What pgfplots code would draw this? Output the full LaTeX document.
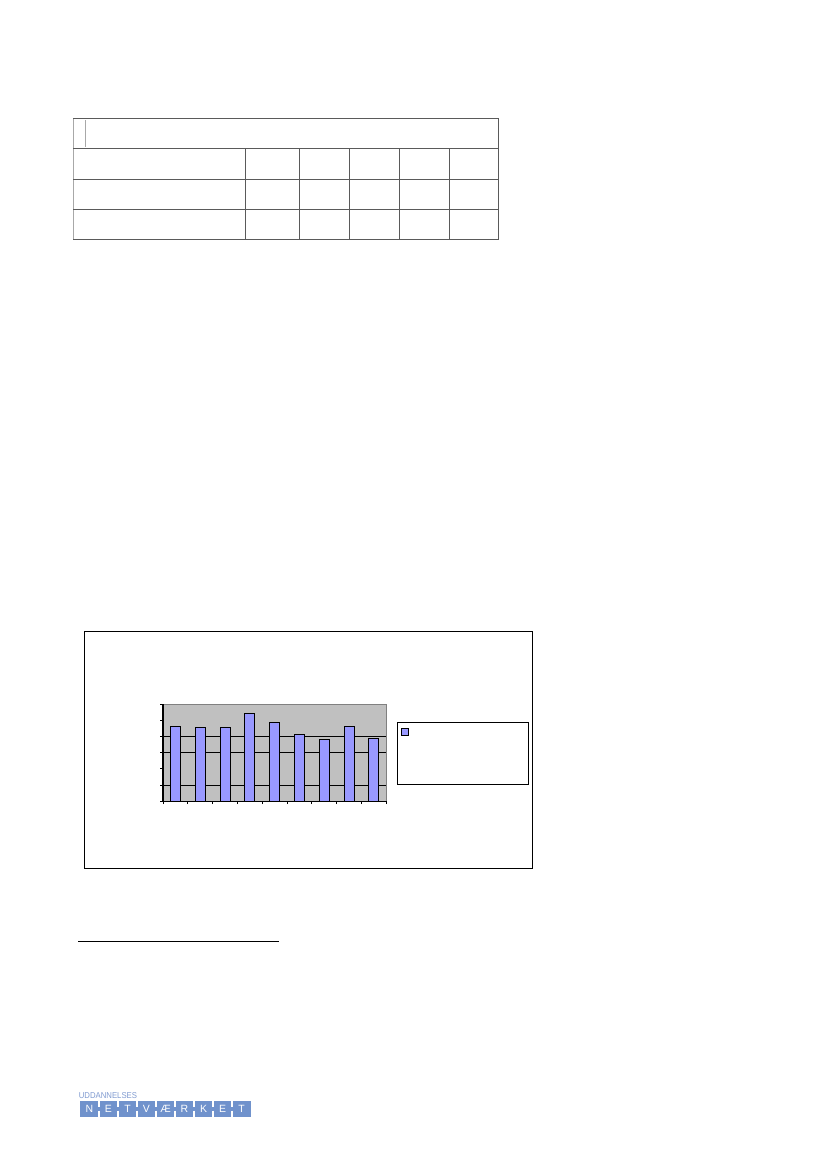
\documentclass[border=0pt]{standalone}
\usepackage{fontspec}
\setmainfont{Liberation Sans}
\usepackage{graphicx}
\usepackage{pgfplots}
\pgfplotsset{compat=1.18}

\definecolor{barblue}{HTML}{9999FF}
\definecolor{plotgray}{HTML}{C0C0C0}
\definecolor{framegray}{HTML}{808080}
\definecolor{tablegray}{HTML}{5A5A5A}
\definecolor{tablelight}{HTML}{A8A8A8}
\definecolor{logoblue}{HTML}{7092CC}
\definecolor{logotext}{HTML}{7F9AD0}

\begin{document}
\begin{tikzpicture}
% page coordinates in pixels of the reference, y downwards
\begin{scope}[x=0.72pt, y=-0.72pt]
\path (0,0) rectangle (827,1169);

% table at the top
\begin{scope}[line width=0.7pt]
\draw[tablelight] (73.3,118.3) -- (73.3,239.3);
\draw[tablelight] (85,120) -- (85,147);
\draw[tablegray] (73.3,118.3) -- (498.3,118.3) -- (498.3,239.3) -- (73.3,239.3);
\foreach \yy in {148.3,179.3,209} \draw[tablegray] (73.3,\yy) -- (498.3,\yy);
\foreach \xx in {245.7,299,349.3,399.3,449.3} \draw[tablegray] (\xx,148.3) -- (\xx,239.3);
\end{scope}

% chart frame and legend box
\draw[black, line width=0.8pt] (84.5,631.7) rectangle (532.5,868.3);
\draw[black, line width=0.8pt] (397.3,722.3) rectangle (528.3,784.3);
\draw[black, fill=barblue, line width=0.6pt] (401.3,728.3) rectangle (408.3,735.3);

% footnote rule
\draw[black, line width=0.6pt] (78,941) -- (279,941);

% logo
\node[anchor=south west, inner sep=0pt, text=logotext] at (78.5,1098.5)
  {\resizebox{42pt}{4.3pt}{UDDANNELSES}};
\fill[logoblue] (80,1101) rectangle (251,1117);
\foreach \i in {1,...,8} {
  \pgfmathsetmacro{\sx}{80+\i*19}
  \draw[white, line width=1.4pt] (\sx,1101) -- (\sx,1107.3);
  \draw[white, line width=1.4pt] (\sx,1110.7) -- (\sx,1117);
}
\foreach \l [count=\i] in {N,E,T,V,Æ,R,K,E,T} {
  \pgfmathsetmacro{\cx}{80+(\i-0.5)*19}
  \node[text=white, inner sep=0pt] at (\cx,1109) {\resizebox{!}{5.2pt}{\l}};
}
\end{scope}

\begin{axis}[
  scale only axis,
  width=160.78pt, height=69.84pt,
  at={(117.36pt,-576.94pt)}, anchor=south west,
  ybar, bar width=7.2pt,
  xmin=0.5, xmax=9.5, ymin=0, ymax=60,
  xtick={0.5,1.5,...,9.5}, xticklabels={},
  ytick={0,10,...,60}, yticklabels={},
  axis lines*=left,
  axis line style={-, black, line width=0.8pt},
  axis background/.style={fill=plotgray, draw=framegray, line width=0.8pt},
  tick align=outside, major tick length=2pt,
  tick style={black, line width=0.7pt},
  extra y ticks={10,30,40}, extra y tick labels={},
  extra y tick style={ymajorgrids=true, major tick length=0pt,
    major grid style={black, line width=0.8pt}},
]
\addplot[fill=barblue, draw=black, line width=0.6pt] coordinates {
  (1,46.3) (2,45.6) (3,45.6) (4,54.4) (5,48.7)
  (6,41.2) (7,38.1) (8,46.3) (9,38.7)
};
\end{axis}
\end{tikzpicture}
\end{document}
